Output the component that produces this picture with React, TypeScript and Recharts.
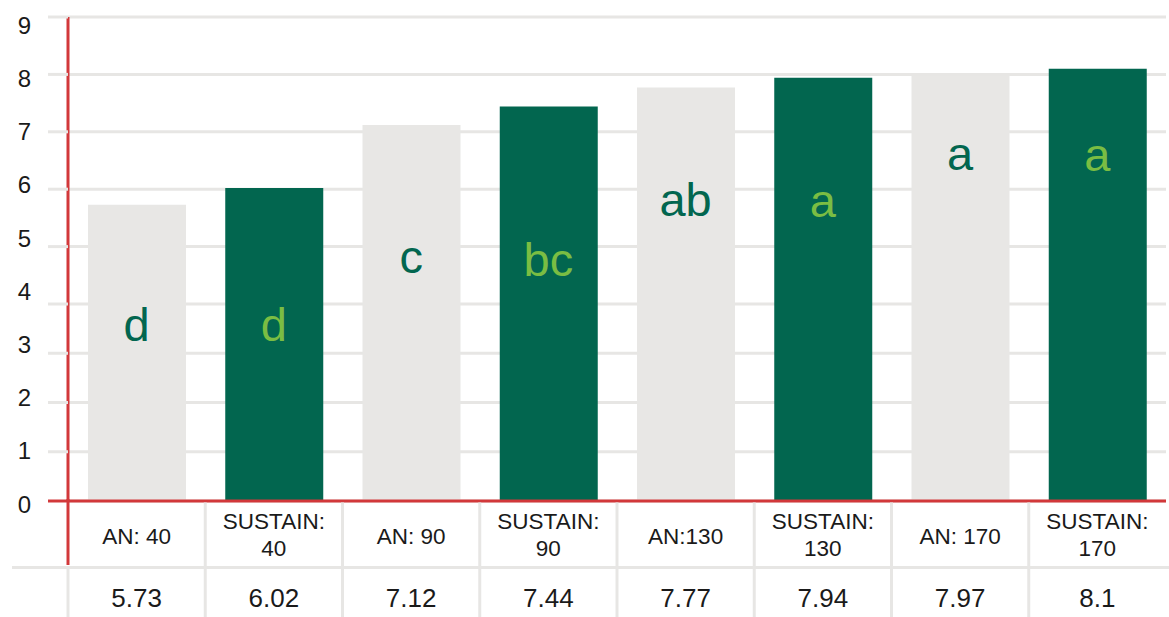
import React from 'react';
import { ComposedChart, Bar, Cell, XAxis, YAxis, CartesianGrid, Scatter } from 'recharts';

const categoryLabels = ['AN: 40', 'SUSTAIN:\n40', 'AN: 90', 'SUSTAIN:\n90', 'AN:130', 'SUSTAIN:\n130', 'AN: 170', 'SUSTAIN:\n170'];
const yieldValues = [5.73, 6.02, 7.12, 7.44, 7.77, 7.94, 7.97, 8.1];
const valueLabels = ['5.73', '6.02', '7.12', '7.44', '7.77', '7.94', '7.97', '8.1'];
const significanceLetters = ['d', 'd', 'c', 'bc', 'ab', 'a', 'a', 'a'];
const letterLevels = [3.24, 3.24, 4.54, 4.49, 5.54, 5.52, 6.34, 6.31];
const yTicks = [0, 1, 2, 3, 4, 5, 6, 7, 8, 9];

const FONT = '"Liberation Sans", Arial, Helvetica, sans-serif';
const GRAY_BAR = '#e8e7e5';
const GREEN_BAR = '#02664f';
const LIGHT_GREEN = '#7abd43';
const RED = '#d2383a';
const GRID = '#e7e6e4';

const data = categoryLabels.map((name, i) => ({
  name,
  value: yieldValues[i],
  letter: significanceLetters[i],
  letterY: letterLevels[i],
}));

// piecewise-linear value scale (the reference axis has wider spacing above 4)
function makeScale(breaks: number[], fracs: number[]): any {
  let dom: number[] = [0, 9];
  let rng: number[] = [0, 1];
  const frac = (v: number) => {
    if (v <= breaks[0]) return fracs[0] + (v - breaks[0]) * (fracs[1] - fracs[0]) / (breaks[1] - breaks[0]);
    for (let i = 0; i < breaks.length - 1; i++) {
      if (v <= breaks[i + 1]) {
        return fracs[i] + (v - breaks[i]) * (fracs[i + 1] - fracs[i]) / (breaks[i + 1] - breaks[i]);
      }
    }
    const n = breaks.length - 1;
    return fracs[n] + (v - breaks[n]) * (fracs[n] - fracs[n - 1]) / (breaks[n] - breaks[n - 1]);
  };
  const s: any = (v: number) => {
    const r0 = rng[0];
    const r1 = rng[rng.length - 1];
    return r0 + frac(Number(v)) * (r1 - r0);
  };
  s.domain = (d?: number[]) => {
    if (d === undefined) return dom.slice();
    dom = Array.from(d);
    return s;
  };
  s.range = (r?: number[]) => {
    if (r === undefined) return rng.slice();
    rng = Array.from(r);
    return s;
  };
  s.copy = () => makeScale(breaks, fracs).domain(dom).range(rng);
  s.ticks = () => {
    const out: number[] = [];
    for (let v = Math.ceil(dom[0]); v <= dom[dom.length - 1]; v++) out.push(v);
    return out;
  };
  s.invert = (px: number) => {
    const r0 = rng[0];
    const r1 = rng[rng.length - 1];
    const t = (px - r0) / (r1 - r0);
    for (let i = 0; i < fracs.length - 1; i++) {
      if (t <= fracs[i + 1]) {
        return breaks[i] + (t - fracs[i]) * (breaks[i + 1] - breaks[i]) / (fracs[i + 1] - fracs[i]);
      }
    }
    return breaks[breaks.length - 1];
  };
  s.clamp = () => s;
  s.nice = () => s;
  s.unknown = () => s;
  return s;
}

const yScale = makeScale([0, 4, 9], [0, 0.407, 1]);

// the reference's tick numbers sit on an evenly spaced column, independent of the grid lines
const labelCenter = (v: number) => 504 - 53.2 * v;

const YTick = (props: any) => {
  const { x, y, payload } = props;
  const v = Number(payload.value);
  return (
    <g>
      <line x1={x - 20} x2={x} y1={y} y2={y} stroke={v === 0 ? RED : GRID} strokeWidth={3} />
      <text x={x - 37} y={labelCenter(v)} textAnchor="end" dominantBaseline="central" fontFamily={FONT} fontSize={24} fill="#1a1a1a">
        {v}
      </text>
    </g>
  );
};

const XTick = (props: any) => {
  const { x, y, payload, index } = props;
  const half = payload && typeof payload.offset === 'number' && payload.offset > 0 ? payload.offset : 68.6;
  const lines = String(payload.value).split('\n');
  const last = index === categoryLabels.length - 1;
  const ruleY = y + 66.5;
  return (
    <g>
      {index === 0 && (
        <>
          <line x1={x - half} x2={x - half} y1={y + 66} y2={y + 120} stroke={GRID} strokeWidth={3} />
          <line x1={12} x2={x - half} y1={ruleY} y2={ruleY} stroke={GRID} strokeWidth={3} />
        </>
      )}
      <line x1={x - half} x2={last ? x + half + 10 : x + half} y1={ruleY} y2={ruleY} stroke={GRID} strokeWidth={3} />
      {!last && <line x1={x + half} x2={x + half} y1={y + 1.5} y2={y + 120} stroke={GRID} strokeWidth={3} />}
      {index === 0 && <line x1={x - half} x2={x - half} y1={y - 2} y2={y + 64} stroke={RED} strokeWidth={3} />}
      {lines.length === 1 ? (
        <text x={x} y={y + 35.5} textAnchor="middle" dominantBaseline="central" fontFamily={FONT} fontSize={22.5} fill="#1a1a1a">
          {lines[0]}
        </text>
      ) : (
        lines.map((ln, i) => (
          <text key={i} x={x} y={y + 20.5 + i * 27} textAnchor="middle" dominantBaseline="central" fontFamily={FONT} fontSize={22.5} fill="#1a1a1a">
            {ln}
          </text>
        ))
      )}
      <text x={x} y={y + 97} textAnchor="middle" dominantBaseline="central" fontFamily={FONT} fontSize={26} fill="#1a1a1a">
        {valueLabels[index]}
      </text>
    </g>
  );
};

const LetterShape = (props: any) => {
  const { cx, cy, payload, index } = props;
  const i = typeof index === 'number' ? index : significanceLetters.indexOf(payload.letter);
  const onGreen = i % 2 === 1;
  return (
    <text x={cx} y={cy} textAnchor="middle" fontFamily={FONT} fontSize={47} fill={onGreen ? LIGHT_GREEN : GREEN_BAR}>
      {payload.letter}
    </text>
  );
};

export default function App() {
  return (
    <div style={{ position: 'absolute', left: 0, top: 0, width: 1169, height: 617, overflow: 'hidden', background: '#fff' }}>
      <ComposedChart width={1169} height={617} data={data} margin={{ top: 17, right: 3, left: 0, bottom: 0 }}>
        <CartesianGrid horizontal vertical={false} stroke={GRID} strokeWidth={3} />
        <XAxis
          dataKey="name"
          type="category"
          height={116}
          tickLine={false}
          tickSize={0}
          tickMargin={0}
          axisLine={{ stroke: RED, strokeWidth: 3 }}
          tick={<XTick />}
          interval={0}
        />
        <YAxis
          type="number"
          domain={[0, 9]}
          ticks={yTicks}
          scale={yScale}
          width={68}
          tickLine={false}
          tickSize={0}
          tickMargin={0}
          axisLine={{ stroke: RED, strokeWidth: 3 }}
          tick={<YTick />}
          interval={0}
        />
        <Bar dataKey="value" barSize={98} isAnimationActive={false}>
          {data.map((_, i) => (
            <Cell key={i} fill={i % 2 === 0 ? GRAY_BAR : GREEN_BAR} />
          ))}
        </Bar>
        <Scatter dataKey="letterY" shape={<LetterShape />} isAnimationActive={false} />
      </ComposedChart>
    </div>
  );
}
